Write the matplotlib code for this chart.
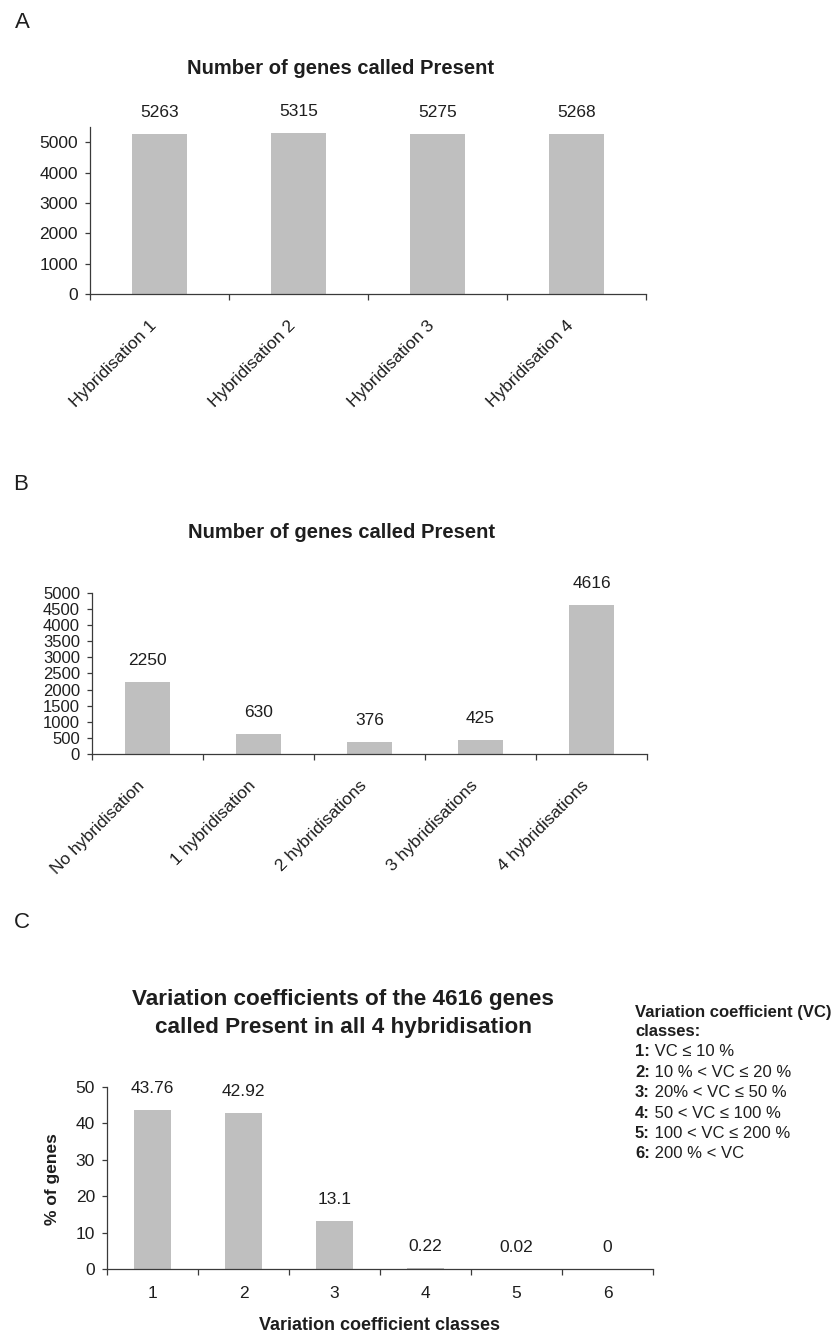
import matplotlib
matplotlib.use("Agg")
import matplotlib.pyplot as plt

plt.rcParams['font.family'] = ['Liberation Sans', 'DejaVu Sans']

# figure is laid out in pixels (838 x 1334 at 100 dpi)
W, H = 838, 1334
DPI = 100

BAR = "#bfbfbf"
AXIS = "#3a3a3a"
TXT = "#1e1e1e"

# panel A
hyb_labels = ["Hybridisation 1", "Hybridisation 2", "Hybridisation 3", "Hybridisation 4"]
hyb_present = [5263, 5315, 5275, 5268]

# panel B
count_labels = ["No hybridisation", "1 hybridisation", "2 hybridisations",
                "3 hybridisations", "4 hybridisations"]
count_genes = [2250, 630, 376, 425, 4616]

# panel C
vc_classes = ["1", "2", "3", "4", "5", "6"]
vc_percent = [43.76, 42.92, 13.1, 0.22, 0.02, 0]
vc_text = ["43.76", "42.92", "13.1", "0.22", "0.02", "0"]

legend_nums = ["1:", "2:", "3:", "4:", "5:", "6:"]
legend_rules = ["VC \u2264 10 %", "10 % < VC \u2264 20 %", "20% < VC \u2264 50 %",
                "50 < VC \u2264 100 %", "100 < VC \u2264 200 %", "200 % < VC"]


def px(x, y):
    return x / W, 1 - y / H


def px_axes(fig, left, right, top, bottom):
    return fig.add_axes([left / W, 1 - bottom / H, (right - left) / W, (bottom - top) / H])


def bar_panel(ax, labels, values, texts, ymax, yticks, rotate):
    n = len(values)
    xs = [i + 0.5 for i in range(n)]
    ax.bar(xs, values, width=0.4, color=BAR, edgecolor="none", zorder=2)
    ax.set_xlim(0, n)
    ax.set_ylim(0, ymax)
    for side in ["top", "right"]:
        ax.spines[side].set_visible(False)
    for side in ["left", "bottom"]:
        ax.spines[side].set_color(AXIS)
        ax.spines[side].set_linewidth(0.9)
    ax.set_yticks(yticks)
    ax.tick_params(axis="y", direction="out", length=3.6, width=0.9, color=AXIS,
                   pad=5, labelsize=12.5, labelcolor=TXT)
    # category boundary ticks, labels sit on the category centres
    ax.set_xticks(range(n + 1))
    ax.set_xticklabels([])
    ax.tick_params(axis="x", which="major", direction="out", length=4, width=0.9, color=AXIS)
    if rotate:
        ax.set_xticks(xs, labels, minor=True, rotation=45, ha="right", va="top")
        ax.tick_params(axis="x", which="minor", length=0, pad=17, labelsize=12.5, labelcolor=TXT)
    else:
        ax.set_xticks(xs, labels, minor=True)
        ax.tick_params(axis="x", which="minor", length=0, pad=12, labelsize=12.5, labelcolor=TXT)
    for xi, v, t in zip(xs, values, texts):
        ax.annotate(t, (xi, v), xytext=(0, 15.5), textcoords="offset points",
                    ha="center", va="center", fontsize=12.5, color=TXT)


fig = plt.figure(figsize=(W / DPI, H / DPI), dpi=DPI)

# ---- A
fig.text(*px(22, 22), "A", fontsize=16, ha="center", va="center", color=TXT)
fig.text(*px(340, 68), "Number of genes called Present", fontsize=14.5,
         fontweight="bold", ha="center", va="center", color=TXT)
axA = px_axes(fig, 90, 646, 127, 294)
bar_panel(axA, hyb_labels, hyb_present, [str(v) for v in hyb_present],
          5500, range(0, 5001, 1000), True)

# ---- B
fig.text(*px(21, 485), "B", fontsize=16, ha="center", va="center", color=TXT)
fig.text(*px(341, 533), "Number of genes called Present", fontsize=14.5,
         fontweight="bold", ha="center", va="center", color=TXT)
axB = px_axes(fig, 92, 647, 593, 754)
bar_panel(axB, count_labels, count_genes, [str(v) for v in count_genes],
          5000, range(0, 5001, 500), True)
axB.tick_params(axis="y", labelsize=12)

# ---- C
fig.text(*px(22, 922), "C", fontsize=16, ha="center", va="center", color=TXT)
fig.text(*px(343, 1000), "Variation coefficients of the 4616 genes", fontsize=16.2,
         fontweight="bold", ha="center", va="center", color=TXT)
fig.text(*px(343, 1027), "called Present in all 4 hybridisation", fontsize=16.2,
         fontweight="bold", ha="center", va="center", color=TXT)
axC = px_axes(fig, 107, 653, 1087, 1269)
bar_panel(axC, vc_classes, vc_percent, vc_text, 50, range(0, 51, 10), False)
fig.text(*px(53, 1179), "% of genes", fontsize=12.5, fontweight="bold", rotation=90,
         ha="center", va="center", color=TXT)
fig.text(*px(379, 1325), "Variation coefficient classes", fontsize=13,
         fontweight="bold", ha="center", va="center", color=TXT)

# class legend on the right
fig.text(*px(635, 1012), "Variation coefficient (VC)", fontsize=12, fontweight="bold",
         ha="left", va="center", color=TXT)
fig.text(*px(635, 1032), "classes:", fontsize=12, fontweight="bold",
         ha="left", va="center", color=TXT)
for i, (num, rule) in enumerate(zip(legend_nums, legend_rules)):
    y = 1052 + i * 20.4
    t = fig.text(*px(635, y), num, fontsize=12, fontweight="bold",
                 ha="left", va="center", color=TXT)
    axC.annotate(" " + rule, xy=(1, 0.5), xycoords=t, ha="left", va="center",
                 fontsize=12, color=TXT, annotation_clip=False)

fig.savefig("out.png", dpi=DPI)
